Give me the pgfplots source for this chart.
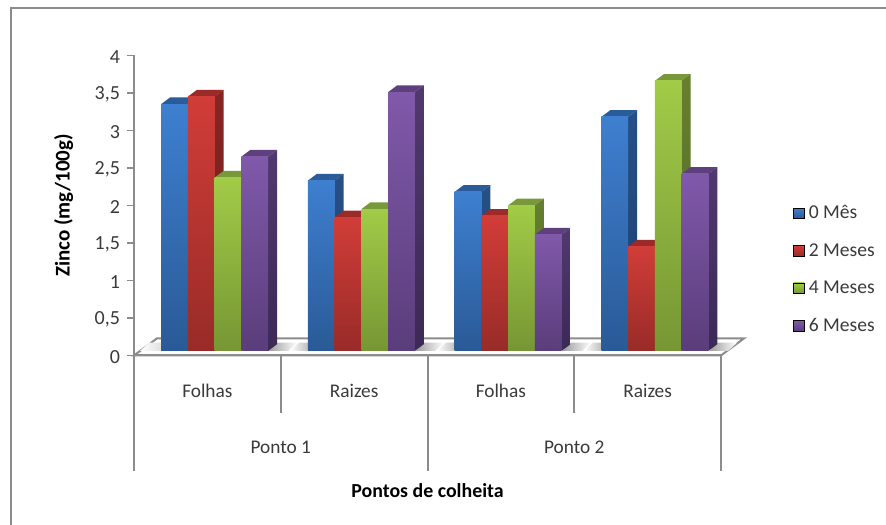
\documentclass[border=0pt]{standalone}
\usepackage{pgfplots}
\pgfplotsset{compat=1.18}
\usepackage{fontspec}
\setmainfont{Carlito}
% bar colours: front top/bottom, cap, side top/bottom
\definecolor{bF1}{HTML}{3E7FD0}\definecolor{bF2}{HTML}{2A5A96}\definecolor{bT}{HTML}{2A5C99}\definecolor{bS1}{HTML}{265088}\definecolor{bS2}{HTML}{1F3F6C}
\definecolor{rF1}{HTML}{D13D38}\definecolor{rF2}{HTML}{982B28}\definecolor{rT}{HTML}{9C2A28}\definecolor{rS1}{HTML}{882523}\definecolor{rS2}{HTML}{6C1D1B}
\definecolor{gF1}{HTML}{A2CB47}\definecolor{gF2}{HTML}{769634}\definecolor{gT}{HTML}{78983A}\definecolor{gS1}{HTML}{66802E}\definecolor{gS2}{HTML}{516624}
\definecolor{pF1}{HTML}{8059AA}\definecolor{pF2}{HTML}{5A3D7B}\definecolor{pT}{HTML}{5E407F}\definecolor{pS1}{HTML}{50396E}\definecolor{pS2}{HTML}{3B2956}
\definecolor{axgray}{HTML}{8C8C8C}
\definecolor{txt}{HTML}{3A3A3A}
% one 3-D bar: #1 left edge (category units), #2 value, #3 colour prefix
\newcommand\zbar[3]{%
  \pgfmathsetmacro\xa{#1}\pgfmathsetmacro\xb{#1+0.1823}\pgfmathsetmacro\xc{#1+0.1823+0.0613}\pgfmathsetmacro\xd{#1+0.0613}%
  \pgfmathsetmacro\ya{0.06}\pgfmathsetmacro\yb{#2+0.06}\pgfmathsetmacro\yc{#2+0.06+0.09}\pgfmathsetmacro\ye{0.06+0.09}%
  \addplot[forget plot,draw=none,fill=#3T] coordinates {(\xa,\yb)(\xd,\yc)(\xc,\yc)(\xb,\yb)} --cycle;
  \addplot[forget plot,draw=none,top color=#3S1,bottom color=#3S2] coordinates {(\xb,\ya)(\xb,\yb)(\xc,\yc)(\xc,\ye)} --cycle;
  \addplot[forget plot,draw=none,top color=#3F1,bottom color=#3F2] coordinates {(\xa,\ya)(\xa,\yb)(\xb,\yb)(\xb,\ya)} --cycle;
}
% floor shadow, from pixel x #1 to #2
\newcommand\fshadow[4]{%
  \pgfmathsetmacro\xa{(#1-134)/146.75}\pgfmathsetmacro\xb{(#2-134)/146.75}\pgfmathsetmacro\xc{(#1+9-134)/146.75}\pgfmathsetmacro\xd{(#2+9-134)/146.75}%
  \addplot[forget plot,draw=none,left color=#3,right color=#4] coordinates {(\xa,0.06)(\xc,0.17)(\xd,0.17)(\xb,0.06)} --cycle;
}
\begin{document}
\begin{tikzpicture}
\useasboundingbox (0,0) rectangle (664.5pt,-393.75pt);
\draw[axgray,line width=1.1pt] (8.25pt,-393.75pt) -- (8.25pt,-6pt) -- (664.5pt,-6pt);
\begin{axis}[
  at={(100.5pt,-266.6pt)},anchor=origin,
  scale only axis,
  width=440.25pt,height=225pt,
  xmin=0,xmax=4,ymin=0,ymax=4,
  clip=false,
  axis x line=bottom,axis y line=left,
  axis line style={axgray,line width=1.5pt,-},
  xtick=\empty,
  ytick={0,0.5,1,1.5,2,2.5,3,3.5,4},
  y tick style={axgray,line width=1.3pt},
  ytick align=outside,
  major tick length=5.5pt,
  tick label style={font=\fontsize{15}{16}\selectfont,text=txt},
  yticklabel style={xshift=-1.5pt,yshift=-1pt},
  /pgf/number format/assume math mode=true,
  /pgf/number format/use comma,
  /pgf/number format/fixed,
  xlabel={Pontos de colheita},
  ylabel={Zinco (mg/100g)},
  every axis x label/.style={at={(axis cs:2,-1.80)},anchor=center,font=\fontsize{14.9}{16}\selectfont\bfseries},
  every axis y label/.style={at={(axis cs:-0.48,2.0)},anchor=center,rotate=90,font=\fontsize{15.7}{16}\selectfont\bfseries},
  legend cell align=left,
  legend style={at={(1.1227,0.50)},anchor=north west,draw=none,fill=none,row sep=17pt,
    font=\fontsize{14.7}{16}\selectfont,text=txt,inner sep=0pt,nodes={inner xsep=3.2pt,inner ysep=0pt}},
]
% floor
\addplot[forget plot,draw=axgray,line width=1.5pt,fill=white] coordinates {(0,0)(0.1567,0.228)(4.1567,0.228)(4,0)} --cycle;
\fshadow{268}{288}{gray!80}{white}
\fshadow{290}{307}{white}{gray!75}
\fshadow{415}{435}{gray!80}{white}
\fshadow{437}{454}{white}{gray!75}
\fshadow{562}{582}{gray!80}{white}
\fshadow{584}{601}{white}{gray!75}
\fshadow{709}{728}{gray!80}{white}
\fshadow{140}{161}{white}{gray!35}
% separators below the floor
\addplot[forget plot,axgray,line width=1.5pt] coordinates {(0,0)(0,-1.54)};
\addplot[forget plot,axgray,line width=1.5pt] coordinates {(1,0)(1,-0.77)};
\addplot[forget plot,axgray,line width=1.5pt] coordinates {(2,0)(2,-1.54)};
\addplot[forget plot,axgray,line width=1.5pt] coordinates {(3,0)(3,-0.77)};
\addplot[forget plot,axgray,line width=1.5pt] coordinates {(4,0)(4,-1.54)};
\addplot[forget plot,axgray,line width=1.5pt] coordinates {(0,0)(4,0)};
% Ponto 1 - Folhas
\zbar{0.184}{3.29}{b}\zbar{0.3663}{3.39}{r}\zbar{0.5486}{2.31}{g}\zbar{0.7309}{2.59}{p}
% Ponto 1 - Raizes
\zbar{1.184}{2.27}{b}\zbar{1.3663}{1.78}{r}\zbar{1.5486}{1.89}{g}\zbar{1.7309}{3.45}{p}
% Ponto 2 - Folhas
\zbar{2.184}{2.12}{b}\zbar{2.3663}{1.80}{r}\zbar{2.5486}{1.94}{g}\zbar{2.7309}{1.55}{p}
% Ponto 2 - Raizes
\zbar{3.184}{3.12}{b}\zbar{3.3663}{1.39}{r}\zbar{3.5486}{3.60}{g}\zbar{3.7309}{2.36}{p}
% legend
\addlegendimage{legend image code/.code={\fill[top color=bF1,bottom color=bF2] (0pt,-4pt) rectangle (8pt,4pt);}}
\addlegendentry{0 Mês}
\addlegendimage{legend image code/.code={\fill[top color=rF1,bottom color=rF2] (0pt,-4pt) rectangle (8pt,4pt);}}
\addlegendentry{2 Meses}
\addlegendimage{legend image code/.code={\fill[top color=gF1,bottom color=gF2] (0pt,-4pt) rectangle (8pt,4pt);}}
\addlegendentry{4 Meses}
\addlegendimage{legend image code/.code={\fill[top color=pF1,bottom color=pF2] (0pt,-4pt) rectangle (8pt,4pt);}}
\addlegendentry{6 Meses}
% category labels
\node[font=\fontsize{14.5}{16}\selectfont,text=txt] at (axis cs:0.5,-0.47) {Folhas};
\node[font=\fontsize{14.5}{16}\selectfont,text=txt] at (axis cs:1.5,-0.47) {Raizes};
\node[font=\fontsize{14.5}{16}\selectfont,text=txt] at (axis cs:2.5,-0.47) {Folhas};
\node[font=\fontsize{14.5}{16}\selectfont,text=txt] at (axis cs:3.5,-0.47) {Raizes};
\node[font=\fontsize{14.5}{16}\selectfont,text=txt] at (axis cs:1,-1.23) {Ponto 1};
\node[font=\fontsize{14.5}{16}\selectfont,text=txt] at (axis cs:3,-1.23) {Ponto 2};
\end{axis}
\end{tikzpicture}
\end{document}
